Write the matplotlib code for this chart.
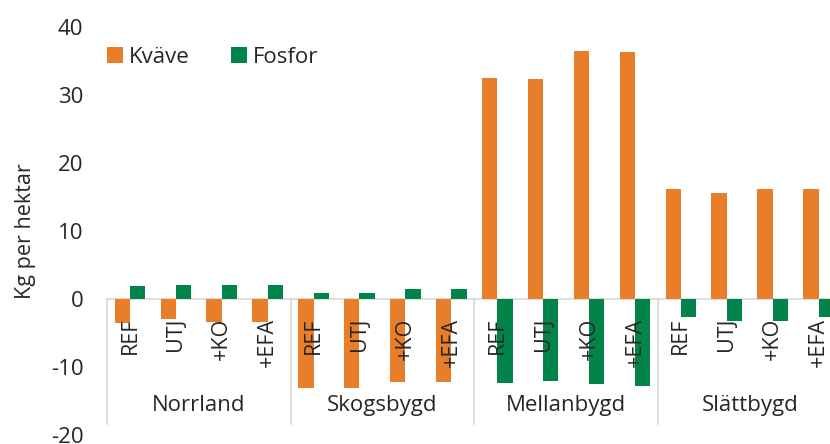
import matplotlib
matplotlib.use('Agg')
import matplotlib.pyplot as plt
from matplotlib.patches import Patch
import numpy as np

regions = ['Norrland', 'Skogsbygd', 'Mellanbygd', 'Slättbygd']
scenarios = ['REF', 'UTJ', '+KO', '+EFA']
kvave = [-3.5, -2.9, -3.4, -3.4,
         -13.1, -13.1, -12.2, -12.2,
         32.5, 32.3, 36.5, 36.3,
         16.1, 15.6, 16.1, 16.1]
fosfor = [1.95, 2.1, 2.1, 2.1,
          0.8, 0.8, 1.4, 1.4,
          -12.4, -12.0, -12.5, -12.8,
          -2.6, -3.2, -3.2, -2.6]
series_names = ['Kväve', 'Fosfor']
yticks = [-20, -10, 0, 10, 20, 30, 40]

orange = '#E87D2A'
green = '#00844A'
txt = '#262626'
grid = '#D9D9D9'
FS = 16

plt.rcParams['font.family'] = ['Open Sans', 'DejaVu Sans']

W, H = 830, 444
fig = plt.figure(figsize=(W / 100, H / 100), dpi=100)
ax = fig.add_axes([107 / W, 9 / H, 734.5 / W, 408.3 / H])

n = len(kvave)
x = np.arange(n)
bw = 1 / 3
ax.bar(x - bw / 2, kvave, bw, color=orange, zorder=2)
ax.bar(x + bw / 2, fosfor, bw, color=green, zorder=2)

ax.set_xlim(-0.5, n - 0.5)
ax.set_ylim(-20, 40)
ax.set_yticks(yticks)
ax.set_yticklabels([str(v) for v in yticks], fontsize=FS, color=txt)
ax.tick_params(axis='y', length=0, pad=17)
ax.set_xticks([])
for s in ax.spines.values():
    s.set_visible(False)

ax.axhline(0, color=grid, lw=1.2, zorder=1)

# scenario labels (rotated)
for i in range(n):
    ax.text(x[i], -2.75, scenarios[i % 4], rotation=90, ha='center', va='top',
            fontsize=FS - 0.5, color=txt, zorder=3)

# group separators and labels
ng = len(regions)
for g in range(ng + 1):
    xs = g * 4 - 0.5
    ax.plot([xs, xs], [0, -18.4], color=grid, lw=1.2, zorder=1, clip_on=False)
for g, r in enumerate(regions):
    ax.text(g * 4 + 1.5, -15.7, r, ha='center', va='center', fontsize=FS, color=txt)

fig.text(25 / W, 1 - 231 / H, 'Kg per hektar', rotation=90, ha='center', va='center',
         fontsize=FS - 0.5, color=txt)

handles = [Patch(facecolor=orange, label=series_names[0]),
           Patch(facecolor=green, label=series_names[1])]
leg = ax.legend(handles=handles, loc='center left', bbox_to_anchor=(0.0, (435 - 57.5) / 408.3),
                ncol=2, frameon=False, fontsize=FS, handlelength=0.72, handleheight=0.7,
                handletextpad=0.28, columnspacing=1.85, borderpad=0, borderaxespad=0)
for t in leg.get_texts():
    t.set_color(txt)

fig.savefig('out.png', dpi=100)
